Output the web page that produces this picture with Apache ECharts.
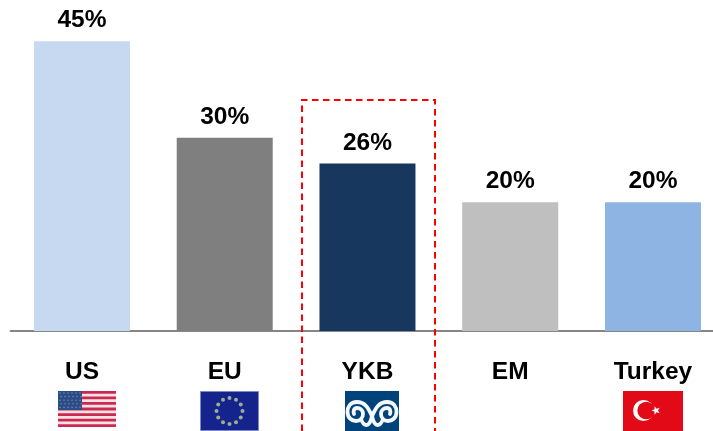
<!DOCTYPE html>
<html>
<head>
<meta charset="utf-8">
<style>html,body{margin:0;padding:0;background:#fff;width:713px;height:431px;overflow:hidden}#chart{width:725px;height:431px}</style>
<script src="https://cdn.jsdelivr.net/npm/echarts@6/dist/echarts.min.js"></script>
</head>
<body>
<div id="chart"></div>
<script>
const categories = ['US', 'EU', 'YKB', 'EM', 'Turkey'];
const shares = [45, 30, 26, 20, 20];
const barColors = ['#c6d9f1', '#7f7f7f', '#17375e', '#bfbfbf', '#8eb4e3'];
const FONT = '"Liberation Sans", Arial, sans-serif';

// Outline shapes for the bank emblem
echarts.graphic.registerShape('hornScroll', echarts.graphic.extendPath(
  'M372 416C369 410 366 402 357 402C350 402 347.5 407 347.5 412C347.5 418 352 421 356 421C360 421 363 418 363 414C363 410 360 408 357 408C354 408 353 411 354 414'
));
echarts.graphic.registerShape('hornLeg', echarts.graphic.extendPath(
  'M361 419C363 425 369 430 372 416'
));

// US flag: thirteen stripes with a starred canton
function usFlag(x, y, w, h) {
  const out = [{ type: 'rect', shape: { x, y, width: w, height: h }, style: { fill: '#f7e3e7' } }];
  const sh = h / 13;
  for (let i = 0; i < 13; i += 2) {
    out.push({ type: 'rect', shape: { x, y: y + i * sh, width: w, height: sh }, style: { fill: '#cb2a50' } });
  }
  const cw = 24, ch = 19;
  out.push({ type: 'rect', shape: { x, y, width: cw, height: ch }, style: { fill: '#2c4c86' } });
  for (let r = 0; r < 5; r++) {
    for (let c = 0; c < 6; c++) {
      out.push({ type: 'circle', shape: { cx: x + 2 + c * 4 + (r % 2), cy: y + 2 + r * 3.6, r: 0.8 }, style: { fill: '#6f86ad' } });
    }
  }
  return out;
}

// EU flag: ring of twelve stars on blue
function euFlag(x, y, w, h) {
  const out = [{ type: 'rect', shape: { x: x + 0.5, y: y + 0.5, width: w - 1, height: h - 1 }, style: { fill: '#14248c', stroke: '#7f88c0', lineWidth: 1 } }];
  const cx = x + w / 2, cy = y + h / 2;
  for (let i = 0; i < 12; i++) {
    const a = i * Math.PI / 6;
    out.push({ type: 'circle', shape: { cx: cx + 13 * Math.cos(a), cy: cy + 13 * Math.sin(a), r: 2 }, style: { fill: '#9fac90' } });
  }
  return out;
}

// Bank emblem: mirrored ram's-horn scrolls on navy
function bankLogo(x, y, w, h) {
  const line = { fill: null, stroke: '#f4f8fb', lineWidth: 3.8, lineCap: 'round' };
  const out = [{ type: 'rect', shape: { x, y, width: w, height: h }, style: { fill: '#00427a' } }];
  ['hornScroll', 'hornLeg'].forEach(shape => {
    out.push({ type: shape, style: line });
    out.push({ type: 'group', x: 744, scaleX: -1, children: [{ type: shape, style: line }] });
  });
  return out;
}

// Turkish flag: crescent and star on red
function turkeyFlag(x, y, w, h) {
  return [
    { type: 'rect', shape: { x, y, width: w, height: h }, style: { fill: '#e30a17' } },
    { type: 'circle', shape: { cx: 643.5, cy: 410.5, r: 10.5 }, style: { fill: '#fff' } },
    { type: 'circle', shape: { cx: 646.2, cy: 410.5, r: 8.8 }, style: { fill: '#e30a17' } },
    { type: 'polygon', shape: { points: Array.from({ length: 10 }, (_, i) => {
        const a = Math.PI + i * Math.PI / 5, r = i % 2 ? 1.9 : 4.6;
        return [656 + r * Math.cos(a), 410.5 + r * Math.sin(a)];
      }) }, style: { fill: '#fff' } }
  ];
}

const highlightFrame = {
  type: 'polyline',
  shape: { points: [[302, 431], [302, 100], [435, 100], [435, 431]] },
  style: { fill: null, stroke: '#ff0000', lineWidth: 2, lineDash: [6.5, 4.5] },
  z: 20
};

const chart = echarts.init(document.getElementById('chart'), null, { renderer: 'canvas' });
chart.setOption({
  animation: false,
  backgroundColor: '#fff',
  grid: { left: 10.6, top: 9, right: 0.65, height: 322 },
  xAxis: {
    type: 'category',
    data: categories,
    axisLine: { lineStyle: { color: '#868686', width: 2 } },
    axisTick: { show: false },
    axisLabel: { color: '#000', fontFamily: FONT, fontWeight: 'bold', fontSize: 24.5, margin: 29 }
  },
  yAxis: { type: 'value', min: 0, max: 50, show: false, splitLine: { show: false } },
  series: [{
    type: 'bar',
    data: shares.map((v, i) => ({ value: v, itemStyle: { color: barColors[i] } })),
    barWidth: 96,
    label: {
      show: true, position: 'top', distance: 8,
      formatter: '{c}%', color: '#000', fontFamily: FONT, fontWeight: 'bold', fontSize: 24.5
    }
  }],
  graphic: [
    ...usFlag(58, 391, 58, 36),
    ...euFlag(200, 391, 59, 40),
    ...bankLogo(345, 391, 54, 40),
    ...turkeyFlag(623, 391, 60, 40),
    highlightFrame
  ]
});
</script>
</body>
</html>
